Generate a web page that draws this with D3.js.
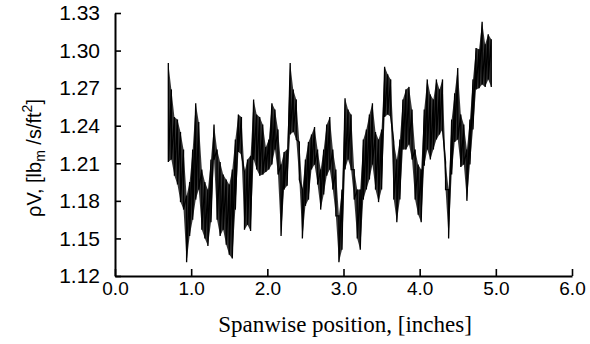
<!DOCTYPE html>
<html><head><meta charset="utf-8">
<script src="https://cdn.jsdelivr.net/npm/d3@7"></script>
<style>body{margin:0;background:#fff}svg{display:block}</style>
</head><body>
<svg id="chart" width="590" height="344"></svg>
<script>
// Spanwise traverse: position of first sample and spacing (inches)
const xStart = 0.70;
const xStep = 0.04;
// Upper and lower extent of the fluctuating signal within each sampling bin, rhoV [lbm/s/ft^2]
const rhoVMax = [1.290,1.269,1.247,1.245,1.235,1.221,1.184,1.195,1.221,1.258,
  1.243,1.205,1.195,1.189,1.213,1.241,1.221,1.211,1.201,1.197,
  1.193,1.205,1.229,1.249,1.247,1.203,1.213,1.216,1.261,1.249,
  1.247,1.241,1.223,1.229,1.258,1.253,1.237,1.209,1.219,1.221,
  1.290,1.269,1.261,1.227,1.189,1.213,1.227,1.233,1.239,1.221,
  1.205,1.221,1.241,1.247,1.221,1.205,1.168,1.189,1.262,1.253,
  1.249,1.205,1.189,1.189,1.229,1.237,1.249,1.258,1.235,1.229,
  1.237,1.287,1.281,1.277,1.227,1.213,1.229,1.261,1.269,1.271,
  1.253,1.221,1.209,1.205,1.253,1.277,1.265,1.261,1.277,1.269,
  1.277,1.211,1.189,1.245,1.266,1.286,1.249,1.241,1.221,1.245,
  1.277,1.302,1.301,1.323,1.305,1.313,1.309];
const rhoVMin = [1.211,1.213,1.200,1.193,1.179,1.173,1.131,1.152,1.165,1.181,
  1.189,1.157,1.150,1.144,1.163,1.213,1.165,1.152,1.157,1.145,
  1.137,1.134,1.173,1.219,1.217,1.157,1.161,1.156,1.213,1.205,
  1.200,1.201,1.203,1.205,1.209,1.221,1.201,1.152,1.189,1.192,
  1.233,1.235,1.229,1.197,1.150,1.176,1.181,1.205,1.209,1.193,
  1.173,1.185,1.200,1.205,1.189,1.168,1.131,1.141,1.205,1.213,
  1.205,1.181,1.150,1.141,1.181,1.189,1.197,1.209,1.189,1.179,
  1.189,1.247,1.249,1.247,1.181,1.163,1.181,1.221,1.221,1.225,
  1.213,1.181,1.169,1.163,1.208,1.221,1.213,1.221,1.229,1.233,
  1.237,1.189,1.150,1.201,1.227,1.229,1.207,1.209,1.180,1.209,
  1.237,1.269,1.270,1.273,1.271,1.277,1.271];
const xTicks = [0, 1, 2, 3, 4, 5, 6];
const yTicks = [1.12, 1.15, 1.18, 1.21, 1.24, 1.27, 1.30, 1.33];
const xTitle = "Spanwise position, [inches]";

const svg = d3.select("#chart");
const x = d3.scaleLinear().domain([0, 6]).range([115, 572]);
const y = d3.scaleLinear().domain([1.12, 1.33]).range([276, 13]);

const bins = rhoVMax.map((v, i) => ({ x: xStart + i * xStep, hi: v, lo: rhoVMin[i] }));

// dense band of the fluctuating signal
svg.append("path")
  .attr("d", d3.area().x(d => x(d.x)).y0(d => y(d.lo)).y1(d => y(d.hi))(bins))
  .attr("fill", "#111").attr("fill-opacity", 0.85);

// signal trace (min/max per bin)
const pts = [];
bins.forEach(b => { pts.push([b.x, b.hi]); pts.push([b.x, b.lo]); });
svg.append("path")
  .attr("d", d3.line().x(d => x(d[0])).y(d => y(d[1]))(pts))
  .attr("fill", "none").attr("stroke", "#000").attr("stroke-width", 1.3)
  .attr("stroke-linejoin", "miter");

// axes
const gx = svg.append("g").attr("transform", "translate(0,276)")
  .call(d3.axisBottom(x).tickValues(xTicks).tickFormat(d3.format(".1f"))
    .tickSize(-7).tickSizeOuter(0).tickPadding(6));
const gy = svg.append("g").attr("transform", "translate(115,0)")
  .call(d3.axisLeft(y).tickValues(yTicks).tickFormat(d3.format(".2f"))
    .tickSize(-6).tickSizeOuter(0).tickPadding(15));
[gx, gy].forEach(g => {
  g.select(".domain").attr("stroke", "#000").attr("stroke-width", 2);
  g.selectAll(".tick line").attr("stroke", "#000").attr("stroke-width", 1.6);
});
gx.selectAll(".tick text").attr("font-family", "Liberation Sans, Arial, sans-serif")
  .attr("font-size", 19).attr("fill", "#000");
gy.selectAll(".tick text").attr("font-family", "Liberation Sans, Arial, sans-serif")
  .attr("font-size", 21).attr("fill", "#000");

// x title
svg.append("text").attr("x", 345).attr("y", 332).attr("text-anchor", "middle")
  .attr("font-family", "Liberation Serif, Times New Roman, serif").attr("font-size", 23)
  .text(xTitle);

// y title
const yt = svg.append("text").attr("transform", "translate(41,158) rotate(-90)")
  .attr("text-anchor", "middle")
  .attr("font-family", "Liberation Sans, Arial, sans-serif").attr("font-size", 20);
yt.append("tspan").text("\u03C1V, [lb");
yt.append("tspan").attr("font-size", 14).attr("baseline-shift", "-4").text("m");
yt.append("tspan").text(" /s/ft");
yt.append("tspan").attr("font-size", 14).attr("baseline-shift", "9").text("2");
yt.append("tspan").text("]");
</script>
</body></html>
